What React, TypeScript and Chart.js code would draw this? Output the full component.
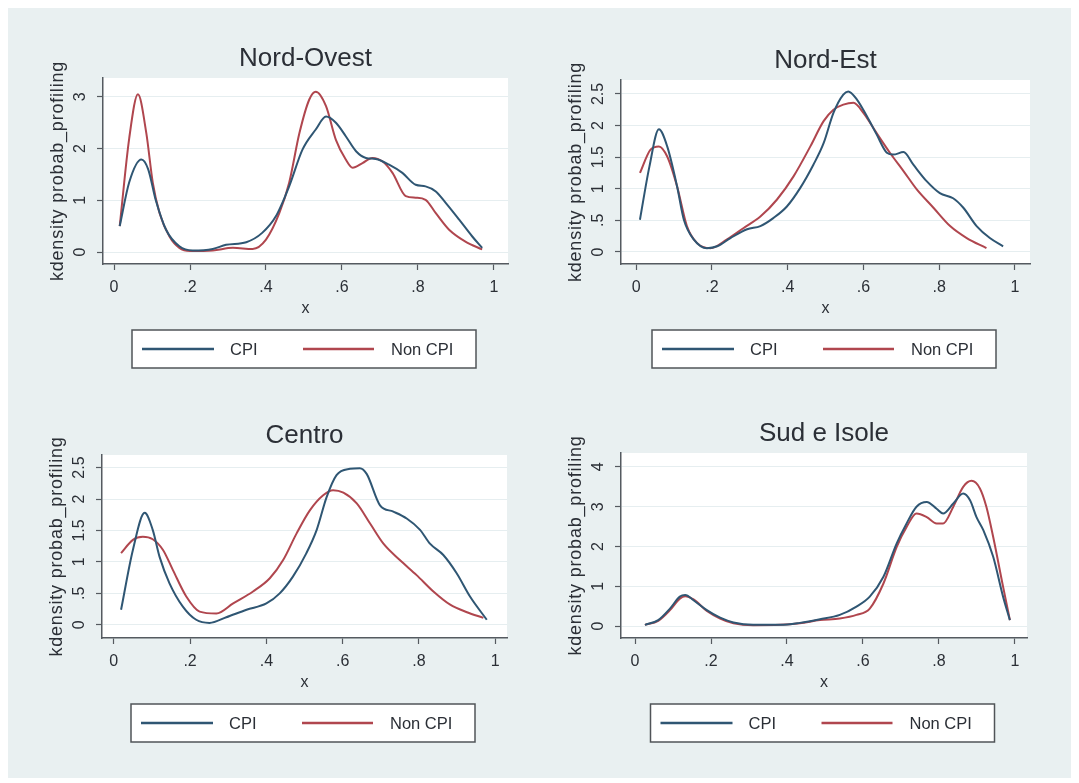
import React, { useEffect, useRef } from "react";
import { Chart, registerables } from "chart.js";

Chart.register(...registerables);

// ---------- DATA ----------
const panelTitles = ["Nord-Ovest", "Nord-Est", "Centro", "Sud e Isole"];
const seriesLabels = ["CPI", "Non CPI"];
const yAxisTitle = "kdensity probab_profiling";
const xAxisTitle = "x";

const xTickValues = [0, 0.2, 0.4, 0.6, 0.8, 1];
const xTickLabels = ["0", ".2", ".4", ".6", ".8", "1"];

const yTicksNO = [0, 1, 2, 3];
const yTickLabelsNO = ["0", "1", "2", "3"];
const yTicksNE = [0, 0.5, 1, 1.5, 2, 2.5];
const yTickLabelsNE = ["0", ".5", "1", "1.5", "2", "2.5"];
const yTicksCE = [0, 0.5, 1, 1.5, 2, 2.5];
const yTickLabelsCE = ["0", ".5", "1", "1.5", "2", "2.5"];
const yTicksSI = [0, 1, 2, 3, 4];
const yTickLabelsSI = ["0", "1", "2", "3", "4"];

// Nord-Ovest
const noCpiX = [0.015, 0.04, 0.072, 0.09, 0.11, 0.137, 0.172, 0.207, 0.26, 0.295, 0.348, 0.39, 0.426, 0.461, 0.496, 0.531, 0.558, 0.584, 0.61, 0.637, 0.663, 0.689, 0.724, 0.759, 0.794, 0.82, 0.847, 0.873, 0.908, 0.943, 0.969];
const noCpiY = [0.5, 1.35, 1.79, 1.6, 1.0, 0.43, 0.11, 0.03, 0.06, 0.14, 0.19, 0.37, 0.69, 1.27, 1.98, 2.37, 2.62, 2.5, 2.24, 1.95, 1.82, 1.8, 1.69, 1.53, 1.3, 1.27, 1.17, 0.95, 0.63, 0.3, 0.08];
const noNonX = [0.015, 0.04, 0.063, 0.085, 0.102, 0.12, 0.146, 0.172, 0.2, 0.26, 0.313, 0.365, 0.4, 0.435, 0.461, 0.488, 0.514, 0.531, 0.558, 0.584, 0.61, 0.628, 0.654, 0.68, 0.707, 0.733, 0.768, 0.794, 0.82, 0.847, 0.882, 0.925, 0.969];
const noNonY = [0.5, 2.2, 3.05, 2.3, 1.34, 0.75, 0.3, 0.08, 0.02, 0.03, 0.08, 0.06, 0.24, 0.75, 1.34, 2.3, 2.95, 3.1, 2.82, 2.17, 1.79, 1.63, 1.72, 1.82, 1.75, 1.53, 1.08, 1.05, 1.01, 0.75, 0.43, 0.2, 0.05];

// Nord-Est
const neCpiX = [0.01, 0.035, 0.06, 0.082, 0.108, 0.126, 0.152, 0.187, 0.214, 0.249, 0.293, 0.328, 0.363, 0.398, 0.433, 0.468, 0.495, 0.521, 0.547, 0.56, 0.583, 0.609, 0.635, 0.662, 0.679, 0.706, 0.732, 0.767, 0.802, 0.837, 0.864, 0.899, 0.934, 0.969];
const neCpiY = [0.51, 1.35, 1.94, 1.67, 1.04, 0.51, 0.2, 0.06, 0.09, 0.22, 0.36, 0.41, 0.54, 0.72, 1.01, 1.38, 1.72, 2.2, 2.49, 2.54, 2.41, 2.15, 1.86, 1.57, 1.54, 1.58, 1.38, 1.12, 0.93, 0.85, 0.7, 0.41, 0.22, 0.09];
const neNonX = [0.01, 0.038, 0.06, 0.082, 0.108, 0.134, 0.161, 0.196, 0.24, 0.284, 0.328, 0.372, 0.416, 0.46, 0.495, 0.521, 0.547, 0.574, 0.6, 0.635, 0.67, 0.706, 0.741, 0.785, 0.829, 0.873, 0.925];
const neNonY = [1.25, 1.62, 1.67, 1.51, 1.04, 0.41, 0.14, 0.06, 0.2, 0.38, 0.56, 0.83, 1.2, 1.67, 2.07, 2.25, 2.33, 2.36, 2.2, 1.88, 1.57, 1.28, 0.99, 0.7, 0.41, 0.22, 0.06];

// Centro
const ceCpiX = [0.019, 0.05, 0.081, 0.102, 0.12, 0.146, 0.181, 0.216, 0.251, 0.295, 0.348, 0.4, 0.435, 0.47, 0.505, 0.532, 0.558, 0.584, 0.619, 0.645, 0.663, 0.698, 0.733, 0.768, 0.803, 0.829, 0.864, 0.899, 0.934, 0.978];
const ceCpiY = [0.24, 1.19, 1.78, 1.51, 1.08, 0.66, 0.29, 0.08, 0.03, 0.12, 0.24, 0.34, 0.5, 0.77, 1.14, 1.51, 2.03, 2.38, 2.48, 2.49, 2.4, 1.9, 1.8, 1.69, 1.51, 1.29, 1.11, 0.82, 0.45, 0.08];
const ceNonX = [0.019, 0.05, 0.076, 0.102, 0.129, 0.155, 0.19, 0.225, 0.269, 0.313, 0.365, 0.409, 0.444, 0.479, 0.514, 0.549, 0.575, 0.602, 0.637, 0.672, 0.707, 0.75, 0.794, 0.838, 0.882, 0.926, 0.969];
const ceNonY = [1.14, 1.35, 1.4, 1.36, 1.19, 0.87, 0.45, 0.21, 0.18, 0.34, 0.53, 0.74, 1.03, 1.45, 1.82, 2.06, 2.14, 2.1, 1.93, 1.61, 1.29, 1.03, 0.79, 0.53, 0.32, 0.2, 0.11];

// Sud e Isole
const siCpiX = [0.026, 0.061, 0.092, 0.118, 0.132, 0.154, 0.189, 0.224, 0.259, 0.311, 0.382, 0.434, 0.487, 0.539, 0.583, 0.618, 0.654, 0.689, 0.715, 0.741, 0.768, 0.794, 0.811, 0.838, 0.864, 0.882, 0.899, 0.917, 0.943, 0.969, 0.987];
const siCpiY = [0.03, 0.15, 0.44, 0.74, 0.78, 0.65, 0.4, 0.21, 0.09, 0.03, 0.03, 0.08, 0.17, 0.28, 0.49, 0.74, 1.24, 2.08, 2.58, 3.0, 3.12, 2.95, 2.83, 3.08, 3.33, 3.16, 2.74, 2.41, 1.74, 0.74, 0.15];
const siNonX = [0.026, 0.061, 0.092, 0.118, 0.132, 0.154, 0.189, 0.224, 0.259, 0.311, 0.382, 0.434, 0.487, 0.539, 0.583, 0.618, 0.654, 0.689, 0.715, 0.741, 0.768, 0.794, 0.811, 0.838, 0.864, 0.886, 0.908, 0.925, 0.943, 0.969, 0.987];
const siNonY = [0.03, 0.13, 0.4, 0.69, 0.75, 0.67, 0.38, 0.19, 0.07, 0.02, 0.03, 0.07, 0.15, 0.19, 0.28, 0.44, 1.07, 1.99, 2.49, 2.83, 2.74, 2.58, 2.58, 3.0, 3.5, 3.65, 3.46, 3.0, 2.24, 0.99, 0.15];

// ---------- STYLE ----------
const BG = "#e9f0f1";
const CPI_COLOR = "#2f5673";
const NON_COLOR = "#b0464e";
const TEXT = "#2b2f36";
const FONT = "'Liberation Sans', Arial, sans-serif";

type PanelCfg = {
  title: string;
  cpiX: number[]; cpiY: number[]; nonX: number[]; nonY: number[];
  yTicks: number[]; yTickLabels: string[];
  xMin: number; xMax: number; yMin: number; yMax: number;
  box: [number, number, number, number];
  area: [number, number, number, number];
};

const pts = (xs: number[], ys: number[]) => xs.map((x, i) => ({ x, y: ys[i] }));

const panels: PanelCfg[] = [
  {
    title: panelTitles[0], cpiX: noCpiX, cpiY: noCpiY, nonX: noNonX, nonY: noNonY,
    yTicks: yTicksNO, yTickLabels: yTickLabelsNO,
    xMin: -0.029, xMax: 1.037, yMin: -0.232, yMax: 3.366,
    box: [0, 0, 532, 382], area: [95, 70, 500, 256],
  },
  {
    title: panelTitles[1], cpiX: neCpiX, cpiY: neCpiY, nonX: neNonX, nonY: neNonY,
    yTicks: yTicksNE, yTickLabels: yTickLabelsNE,
    xMin: -0.04, xMax: 1.04, yMin: -0.19, yMax: 2.72,
    box: [532, 0, 539, 382], area: [613, 72, 1022, 256],
  },
  {
    title: panelTitles[2], cpiX: ceCpiX, cpiY: ceCpiY, nonX: ceNonX, nonY: ceNonY,
    yTicks: yTicksCE, yTickLabels: yTickLabelsCE,
    xMin: -0.031, xMax: 1.031, yMin: -0.21, yMax: 2.70,
    box: [0, 382, 532, 388], area: [94, 447, 499, 630],
  },
  {
    title: panelTitles[3], cpiX: siCpiX, cpiY: siCpiY, nonX: siNonX, nonY: siNonY,
    yTicks: yTicksSI, yTickLabels: yTickLabelsSI,
    xMin: -0.037, xMax: 1.032, yMin: -0.30, yMax: 4.35,
    box: [532, 382, 539, 388], area: [613, 445, 1019, 630],
  },
];

const X_SCALE_H = 30;

function Panel({ cfg }: { cfg: PanelCfg }) {
  const ref = useRef<HTMLCanvasElement | null>(null);
  useEffect(() => {
    const canvas = ref.current!;
    const [bx, by, bw, bh] = cfg.box;
    const [L, T, R, B] = cfg.area;
    const yW = L - bx;
    const padTop = T - by;
    const padRight = bx + bw - R;
    const padBottom = by + bh - B - X_SCALE_H;

    const decor = {
      id: "stataDecor",
      beforeDraw(chart: any) {
        const { ctx, chartArea: a } = chart;
        ctx.save();
        ctx.fillStyle = BG;
        ctx.fillRect(0, 0, chart.width, chart.height);
        ctx.fillStyle = "#ffffff";
        ctx.fillRect(a.left, a.top, a.right - a.left, a.bottom - a.top);
        ctx.restore();
      },
      afterDraw(chart: any) {
        const { ctx, chartArea: a } = chart;
        const xs = chart.scales.x;
        const ys = chart.scales.y;
        const cx = (a.left + a.right) / 2;
        const cy = (a.top + a.bottom) / 2;
        ctx.save();
        ctx.fillStyle = TEXT;
        ctx.font = `26px ${FONT}`;
        ctx.textAlign = "center";
        ctx.textBaseline = "middle";
        ctx.fillText(cfg.title, cx, a.top - 19);
        ctx.save();
        ctx.font = `18px ${FONT}`;
        (ctx as any).letterSpacing = "0.8px";
        ctx.translate(a.left - 45, cy);
        ctx.rotate(-Math.PI / 2);
        ctx.fillText(yAxisTitle, 0, 0);
        ctx.restore();
        ctx.font = `16px ${FONT}`;
        cfg.yTicks.forEach((v, i) => {
          const py = ys.getPixelForValue(v);
          ctx.save();
          ctx.translate(a.left - 22, py);
          ctx.rotate(-Math.PI / 2);
          ctx.fillText(cfg.yTickLabels[i], 0, 0);
          ctx.restore();
        });
        xTickValues.forEach((v, i) => {
          ctx.fillText(xTickLabels[i], xs.getPixelForValue(v), a.bottom + 24);
        });
        ctx.fillText(xAxisTitle, cx, a.bottom + 45);
        const lw = 344;
        const lh = 38;
        const lx = cx - 1.5 - lw / 2;
        const ly = a.bottom + 66;
        ctx.fillStyle = "#ffffff";
        ctx.fillRect(lx, ly, lw, lh);
        ctx.strokeStyle = "#505458";
        ctx.lineWidth = 1.5;
        ctx.strokeRect(lx, ly, lw, lh);
        const my = ly + lh / 2;
        const ds = chart.data.datasets;
        const items = [
          { x0: 10, x1: 82, tx: 98 },
          { x0: 171, x1: 242, tx: 259 },
        ];
        items.forEach((it, i) => {
          ctx.strokeStyle = ds[i].borderColor;
          ctx.lineWidth = 2.5;
          ctx.beginPath();
          ctx.moveTo(lx + it.x0, my);
          ctx.lineTo(lx + it.x1, my);
          ctx.stroke();
          ctx.fillStyle = TEXT;
          ctx.textAlign = "left";
          ctx.font = `16.5px ${FONT}`;
          ctx.fillText(ds[i].label, lx + it.tx, my + 1);
        });
        ctx.restore();
      },
    };

    const chart = new Chart(canvas, {
      type: "line",
      data: {
        datasets: [
          { label: seriesLabels[0], data: pts(cfg.cpiX, cfg.cpiY), borderColor: CPI_COLOR, borderWidth: 2, pointRadius: 0, cubicInterpolationMode: "monotone", fill: false },
          { label: seriesLabels[1], data: pts(cfg.nonX, cfg.nonY), borderColor: NON_COLOR, borderWidth: 2, pointRadius: 0, cubicInterpolationMode: "monotone", fill: false },
        ],
      },
      options: {
        animation: false,
        responsive: false,
        devicePixelRatio: 1,
        layout: { padding: { left: 0, top: padTop, right: padRight, bottom: padBottom } },
        plugins: { legend: { display: false }, title: { display: false }, tooltip: { enabled: false } },
        scales: {
          x: {
            type: "linear",
            min: cfg.xMin,
            max: cfg.xMax,
            afterBuildTicks: (s: any) => { s.ticks = xTickValues.map((v) => ({ value: v })); },
            afterFit: (s: any) => { s.height = X_SCALE_H; },
            ticks: { display: false },
            grid: { drawOnChartArea: false, drawTicks: true, tickLength: 6, tickColor: "#555a60", tickWidth: 1.2 },
            border: { display: true, color: "#555a60", width: 1.5 },
          },
          y: {
            type: "linear",
            min: cfg.yMin,
            max: cfg.yMax,
            afterBuildTicks: (s: any) => { s.ticks = cfg.yTicks.map((v) => ({ value: v })); },
            afterFit: (s: any) => { s.width = yW; },
            ticks: { display: false },
            grid: { drawOnChartArea: true, color: "#e6eef0", lineWidth: 1, drawTicks: true, tickLength: 6, tickColor: "#555a60", tickWidth: 1.2 },
            border: { display: true, color: "#555a60", width: 1.5 },
          },
        },
      },
      plugins: [decor],
    } as any);
    return () => chart.destroy();
  }, [cfg]);
  const [bx, by, bw, bh] = cfg.box;
  return (
    <canvas
      ref={ref}
      width={bw}
      height={bh}
      style={{ position: "absolute", left: bx, top: by, width: bw, height: bh }}
    />
  );
}

export default function App() {
  useEffect(() => {
    document.body.style.overflow = "hidden";
  }, []);
  return (
    <div style={{ position: "relative", width: 1100, height: 770, background: BG }}>
      {panels.map((p, i) => (
        <Panel key={i} cfg={p} />
      ))}
    </div>
  );
}
